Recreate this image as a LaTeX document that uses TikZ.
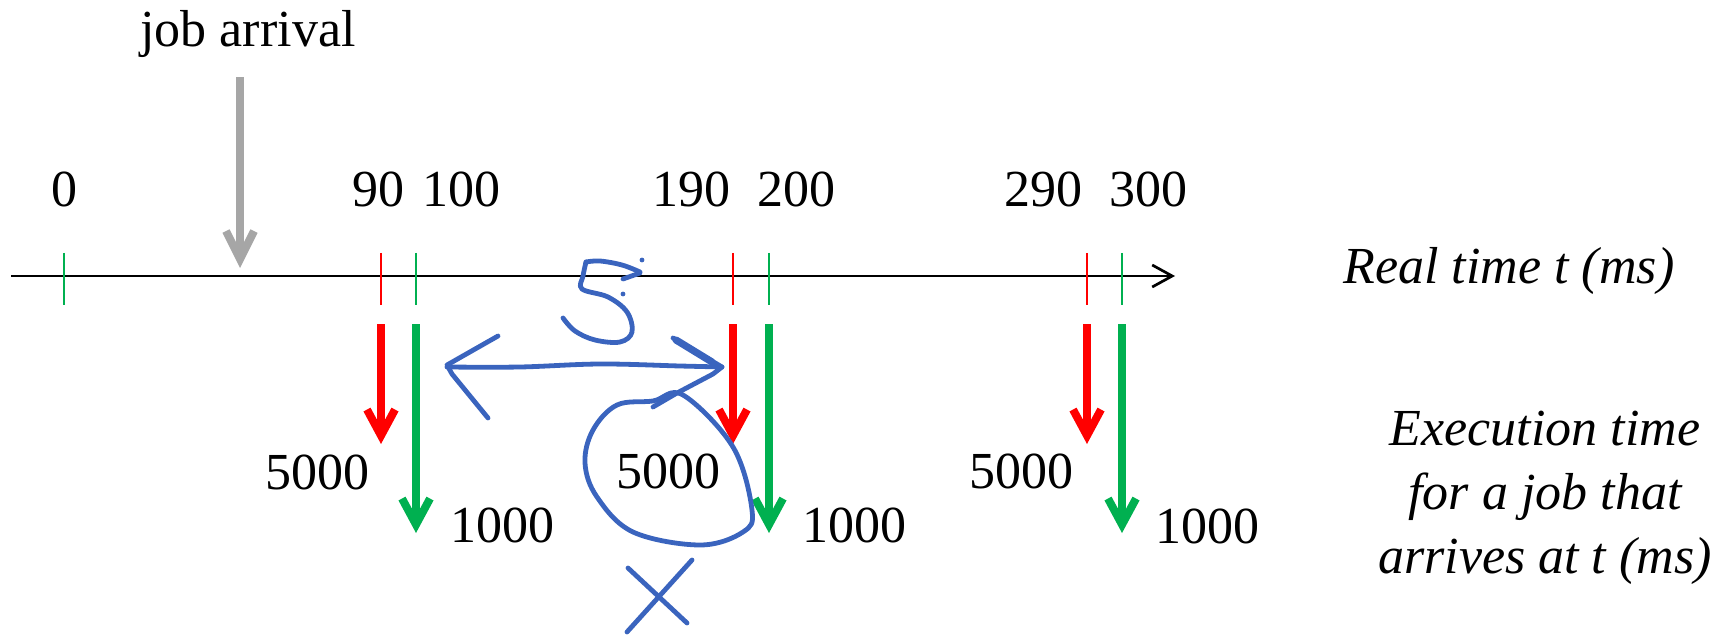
\documentclass[tikz,border=0pt]{standalone}
\usepackage{fontspec}
\setmainfont{Liberation Serif}
\usetikzlibrary{arrows.meta}
\definecolor{tred}{RGB}{255,0,0}
\definecolor{tgreen}{RGB}{0,176,80}
\definecolor{tgray}{RGB}{166,166,166}
\definecolor{ink}{RGB}{58,100,190}

\begin{document}
\begin{tikzpicture}[x=0.5pt,y=-0.5pt,
  lbl/.style={font=\fontsize{26}{31.5}\selectfont, inner sep=0pt, anchor=base},
  itl/.style={font=\fontsize{26}{31.5}\selectfont\itshape, inner sep=0pt, anchor=base},
  tickmark/.style={line width=1.2pt},
  exarrow/.style={line width=4pt, -{Straight Barb[length=13pt,width=14pt]}},
  pen/.style={ink, line width=2.4pt, line cap=round, line join=round}]

\useasboundingbox (0,0) rectangle (1728,636);

% time axis
\coordinate (axL) at (11,276);
\coordinate (axR) at (1175,276);
\draw[line width=1.35pt, -{Straight Barb[length=10pt,width=11pt]}] (axL) -- (axR);
\node[itl] (axlabel) at (1509,284) {Real time t (ms)};

% ticks with their time labels
\foreach \n/\x/\c/\lx in {0/64/tgreen/64, 90/381/tred/378, 100/416/tgreen/461,
                          190/733/tred/691, 200/769/tgreen/796,
                          290/1087/tred/1043, 300/1122/tgreen/1148} {
  \coordinate (tt\n) at (\x,253);
  \coordinate (tb\n) at (\x,305);
  \draw[tickmark,\c] (tt\n) -- (tb\n);
  \node[lbl] (lab\n) at (\lx,206) {\n};
}

% execution-time arrows
\foreach \n/\x/\c/\e in {90/381/tred/444, 100/416/tgreen/533,
                         190/733/tred/444, 200/769/tgreen/533,
                         290/1087/tred/444, 300/1122/tgreen/533} {
  \coordinate (as\n) at (\x,324);
  \coordinate (ae\n) at (\x,\e);
  \draw[exarrow,\c] (as\n) -- (ae\n);
}

% execution-time values
\node[lbl] (v90)  at (317,489) {5000};
\node[lbl] (v100) at (502,542) {1000};
\node[lbl] (v190) at (668,488) {5000};
\node[lbl] (v200) at (854,542) {1000};
\node[lbl] (v290) at (1021,488) {5000};
\node[lbl] (v300) at (1207,543) {1000};

\node[itl] (exec1) at (1545,445) {Execution time};
\node[itl] (exec2) at (1545,509) {for a job that};
\node[itl] (exec3) at (1545,573) {arrives at t (ms)};

% job arrival
\node[lbl] (arrlabel) at (248,47) {job arrival};
\coordinate (jaTop) at (240,77);
\coordinate (jaTip) at (240,268);
\draw[tgray, line width=4pt, -{Straight Barb[length=14pt,width=14pt]}] (jaTop) -- (jaTip);

% handwritten marks
% the "5"
\draw[pen] plot[smooth, tension=0.6] coordinates {(640,272) (622,265) (600,261) (586,262)};
\draw[pen] plot[smooth, tension=0.6] coordinates {(586,262) (583,276) (582,289) (608,297) (627,312) (632,332) (620,342) (595,340) (575,331) (563,318)};
\draw[pen] (623,279) -- (640,273);
\fill[ink] (642,260) circle (2.4);
\fill[ink] (623,294) circle (2.4);
% double-headed arrow
\draw[pen] plot[smooth, tension=0.6] coordinates {(447,367) (520,367) (600,364) (680,366) (722,367)};
\draw[pen] (498,336) -- (447,365) -- (452,374) -- (488,418);
\draw[pen] (673,338) -- (722,367) -- (713,374) -- (677,393) -- (653,407);
\draw[ink, line width=3.6pt, line cap=round] (676,340) -- (712,362);
% loop round the middle value
\draw[pen] plot[smooth cycle, tension=0.6] coordinates {(683,395) (733,447) (752,510) (743,532) (700,545) (633,532) (597,497) (585,463) (593,430) (617,405) (653,401)};
% cross below it
\draw[pen] (628,568) -- (687,623);
\draw[pen] (692,560) -- (627,632);
\end{tikzpicture}
\end{document}
